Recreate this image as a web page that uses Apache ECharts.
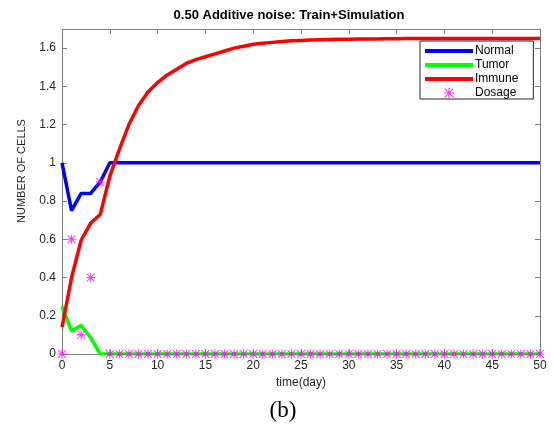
<!DOCTYPE html>
<html>
<head>
<meta charset="utf-8">
<script src="https://cdn.jsdelivr.net/npm/echarts@6/dist/echarts.min.js"></script>
<style>
  html, body { margin: 0; padding: 0; background: #fff; }
  #main { width: 553px; height: 436px; }
</style>
</head>
<body>
<div id="main"></div>
<script>
// days 0..50
const days = Array.from({ length: 51 }, (_, i) => i)

const normal = [1.0, 0.75, 0.84, 0.84, 0.9, 1.0, 1.0, 1.0, 1.0, 1.0,
  1.0, 1.0, 1.0, 1.0, 1.0, 1.0, 1.0, 1.0, 1.0, 1.0,
  1.0, 1.0, 1.0, 1.0, 1.0, 1.0, 1.0, 1.0, 1.0, 1.0,
  1.0, 1.0, 1.0, 1.0, 1.0, 1.0, 1.0, 1.0, 1.0, 1.0,
  1.0, 1.0, 1.0, 1.0, 1.0, 1.0, 1.0, 1.0, 1.0, 1.0, 1.0]
const tumor = [0.25, 0.12, 0.15, 0.085, 0, 0, 0, 0, 0, 0,
  0, 0, 0, 0, 0, 0, 0, 0, 0, 0,
  0, 0, 0, 0, 0, 0, 0, 0, 0, 0,
  0, 0, 0, 0, 0, 0, 0, 0, 0, 0,
  0, 0, 0, 0, 0, 0, 0, 0, 0, 0, 0]
const immune = [0.14, 0.40, 0.595, 0.685, 0.73, 0.93, 1.07, 1.20, 1.30, 1.37,
  1.42, 1.46, 1.49, 1.52, 1.54, 1.555, 1.57, 1.585, 1.60, 1.61,
  1.62, 1.625, 1.63, 1.635, 1.638, 1.64, 1.642, 1.644, 1.645, 1.646,
  1.647, 1.648, 1.648, 1.648, 1.649, 1.649, 1.65, 1.65, 1.65, 1.65,
  1.65, 1.65, 1.65, 1.65, 1.65, 1.65, 1.65, 1.65, 1.65, 1.65, 1.65]
const dosage = [0, 0.6, 0.1, 0.4, 0.9, 0, 0, 0, 0, 0,
  0, 0, 0, 0, 0, 0, 0, 0, 0, 0,
  0, 0, 0, 0, 0, 0, 0, 0, 0, 0,
  0, 0, 0, 0, 0, 0, 0, 0, 0, 0,
  0, 0, 0, 0, 0, 0, 0, 0, 0, 0, 0]

const lineNames = ['Normal', 'Tumor', 'Immune']

// asterisk marker (+ and x)
const star = 'path://M4.4 0L5.6 0L5.6 10L4.4 10Z M0 4.4L10 4.4L10 5.6L0 5.6Z M1.1 0.3L9.7 8.9L8.9 9.7L0.3 1.1Z M8.9 0.3L9.7 1.1L1.1 9.7L0.3 8.9Z'

function pairs(vals) {
  return days.map((d, i) => [d, vals[i]])
}

const axisGray = '#808080'
const textColor = '#262626'

const chart = echarts.init(document.getElementById('main'), null, { renderer: 'canvas' })

function lineSeries(name, vals, color) {
  return {
    name: name,
    type: 'line',
    data: pairs(vals),
    symbol: 'none',
    itemStyle: { color: color },
    lineStyle: { color: color, width: 3.5 },
    animation: false,
  }
}

// legend entries: lines without the marker, then the asterisk
const legendData = lineNames.map((n) => ({
  name: n,
  itemStyle: { opacity: 0 },
  lineStyle: { width: 4 },
}))
legendData.push({ name: 'Dosage' })

const option = {
  backgroundColor: '#fff',
  textStyle: { fontFamily: 'Liberation Sans, Arial, sans-serif' },
  title: {
    text: '0.50 Additive noise: Train+Simulation',
    left: 284,
    top: 4,
    textAlign: 'center',
    textStyle: { fontSize: 13, fontWeight: 'bold', color: '#000', fontFamily: 'Liberation Sans, Arial, sans-serif' },
  },
  legend: {
    orient: 'vertical',
    left: 420,
    top: 41,
    data: legendData,
    itemWidth: 48,
    itemHeight: 10,
    itemGap: 2,
    padding: [4, 15, 0, 3],
    borderColor: '#262626',
    borderWidth: 1,
    borderRadius: 0,
    backgroundColor: '#fff',
    textStyle: { fontSize: 12, color: '#000', lineHeight: 11, padding: [0, 0, 0, -3] },
  },
  grid: { left: 62, right: 13, top: 29, bottom: 82 },
  xAxis: [
    {
      type: 'value',
      min: 0,
      max: 50,
      interval: 5,
      name: 'time(day)',
      nameLocation: 'middle',
      nameGap: 23,
      nameTextStyle: { fontSize: 12, color: textColor },
      axisLine: { onZero: false, lineStyle: { color: axisGray } },
      axisTick: { inside: true, length: 5, lineStyle: { color: axisGray } },
      axisLabel: { fontSize: 12, color: textColor, margin: 6 },
      splitLine: { show: false },
    },
    {
      type: 'value',
      position: 'top',
      min: 0,
      max: 50,
      interval: 5,
      axisLine: { show: true, onZero: false, lineStyle: { color: axisGray } },
      axisTick: { inside: true, length: 5, lineStyle: { color: axisGray } },
      axisLabel: { show: false },
      splitLine: { show: false },
    },
  ],
  yAxis: [
    {
      type: 'value',
      min: 0,
      max: 1.7,
      interval: 0.2,
      axisLine: { show: true, onZero: false, lineStyle: { color: axisGray } },
      axisTick: { show: true, inside: true, length: 5, lineStyle: { color: axisGray } },
      axisLabel: { fontSize: 12, color: textColor, margin: 6, showMaxLabel: false },
      splitLine: { show: false },
    },
    {
      type: 'value',
      position: 'right',
      min: 0,
      max: 1.7,
      interval: 0.2,
      axisLine: { show: true, onZero: false, lineStyle: { color: axisGray } },
      axisTick: { show: true, inside: true, length: 5, lineStyle: { color: axisGray } },
      axisLabel: { show: false },
      splitLine: { show: false },
    },
  ],
  graphic: [
    {
      type: 'text',
      x: 22,
      y: 171,
      rotation: Math.PI / 2,
      style: {
        text: 'NUMBER OF CELLS',
        font: '11px "Liberation Sans", Arial, sans-serif',
        fill: textColor,
        align: 'center',
        verticalAlign: 'middle',
      },
    },
    {
      type: 'text',
      x: 283,
      y: 411,
      style: {
        text: '(b)',
        font: '23px "Liberation Serif", "Times New Roman", serif',
        fill: '#000',
        align: 'center',
        verticalAlign: 'middle',
      },
    },
  ],
  series: [
    lineSeries('Normal', normal, '#0000ff'),
    lineSeries('Tumor', tumor, '#00ff00'),
    lineSeries('Immune', immune, '#ff0000'),
    {
      name: 'Dosage',
      type: 'scatter',
      data: pairs(dosage),
      symbol: star,
      symbolSize: 9,
      symbolKeepAspect: true,
      itemStyle: { color: '#ff00ff' },
      animation: false,
      z: 5,
    },
  ],
}

chart.setOption(option)
</script>
</body>
</html>
